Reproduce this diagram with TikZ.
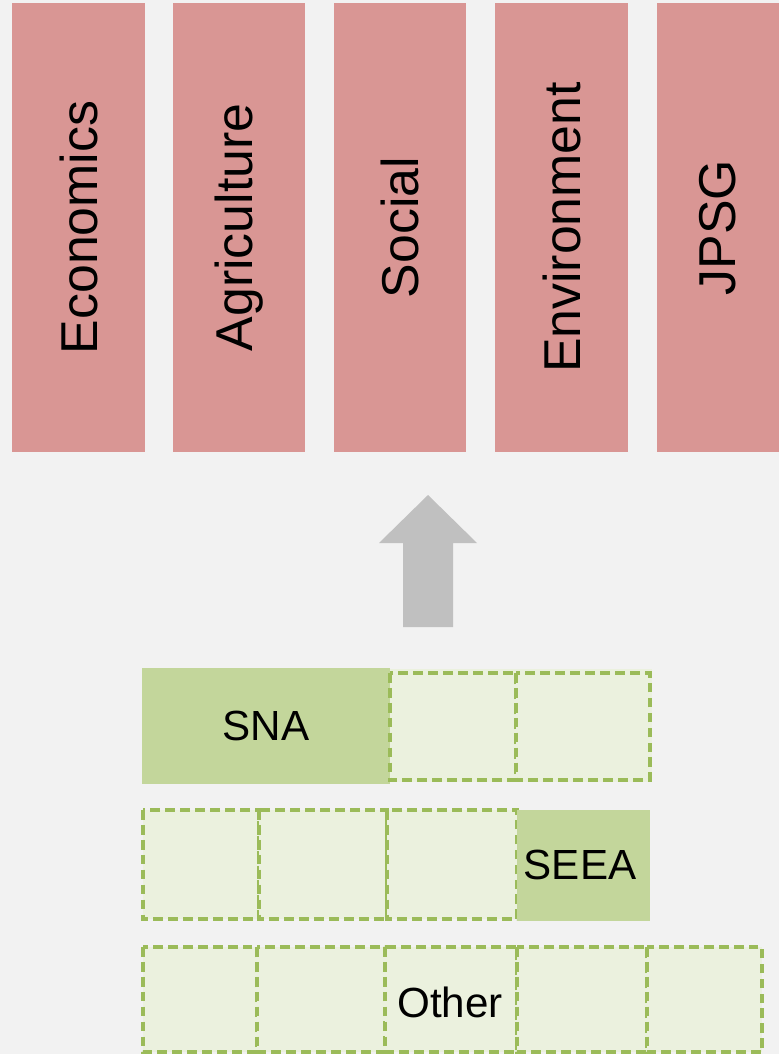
\documentclass[tikz,border=0pt]{standalone}
\usepackage{fontspec}
\setmainfont{Liberation Sans}

\definecolor{bgcol}{HTML}{F2F2F2}
\definecolor{rosecol}{HTML}{D99694}
\definecolor{greencol}{HTML}{C3D69B}
\definecolor{palegreen}{HTML}{EBF1DE}
\definecolor{linegreen}{HTML}{9BBB59}
\definecolor{arrowcol}{HTML}{C0C0C0}

\begin{document}
\begin{tikzpicture}[x=0.02cm, y=-0.02cm]

\tikzset{topbox/.style={fill=rosecol}}
\tikzset{toplabel/.style={rotate=90, inner sep=0pt, font=\fontsize{29.5}{34}\selectfont}}
\tikzset{fullcell/.style={fill=greencol}}
\tikzset{emptycell/.style={fill=palegreen, draw=linegreen, line width=2.3pt, dash pattern=on 5.5pt off 3pt}}
\tikzset{celllabel/.style={inner sep=0pt, font=\fontsize{24}{28}\selectfont}}

% background
\fill[bgcol] (0,0) rectangle (779,1054);
\useasboundingbox (0,0) rectangle (779,1054);

% domains on top
\fill[topbox] ( 12,3) rectangle (145,452);
\fill[topbox] (173,3) rectangle (305,452);
\fill[topbox] (334,3) rectangle (466,452);
\fill[topbox] (495,3) rectangle (628,452);
\fill[topbox] (657,3) rectangle (779,452);
\node[toplabel] at ( 78.5, 227.5) (eco) {Economics};
\node[toplabel] at (239,   227.5) (agr) {Agriculture};
\node[toplabel] at (400,   227.5) (soc) {Social};
\node[toplabel] at (561.5, 227.5) (env) {Environment};
\node[toplabel] at (718,   227.5) (jpsg) {JPSG};

% arrow up
\fill[arrowcol] (403,627) -- (403,543) -- (379,543) -- (428,495)
  -- (477,543) -- (453,543) -- (453,627) -- cycle;

% row 1: SNA
\fill[fullcell] (142,668) rectangle (390,784);
\node[celllabel] at (266,726) (sna) {SNA};
\fill[palegreen] (390,669) rectangle (652,782);
\draw[emptycell] (390,673) rectangle (516,780);
\draw[emptycell] (516,673) rectangle (650,780);

% row 2: SEEA
\draw[emptycell] (143,810) rectangle (259,919);
\draw[emptycell] (259,810) rectangle (387,919);
\draw[emptycell] (387,810) rectangle (517,919);
\fill[fullcell] (517,810) rectangle (650,921);
\node[celllabel] at (580,865) (seea) {SEEA};

% row 3: other
\draw[emptycell] (143,947) rectangle (257,1052);
\draw[emptycell] (257,947) rectangle (385,1052);
\draw[emptycell] (385,947) rectangle (517,1052);
\draw[emptycell] (517,947) rectangle (647,1052);
\draw[emptycell] (647,947) rectangle (762,1052);
\node[celllabel] at (450,1002) (other) {Other};

\end{tikzpicture}
\end{document}
